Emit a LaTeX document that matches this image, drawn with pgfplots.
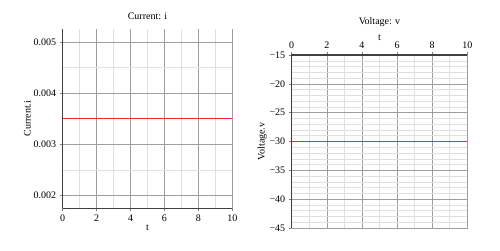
\documentclass[border=0pt]{standalone}
\usepackage{fontspec}
\setmainfont{Liberation Serif}
\usepackage{pgfplots}
\pgfplotsset{compat=1.18}
\definecolor{lred}{RGB}{240,40,40}
\begin{document}
\fontsize{10pt}{12pt}\selectfont
\begin{tikzpicture}[x=1pt,y=1pt]
\useasboundingbox (0,0) rectangle (500,250);
\pgfplotsset{
  common/.style={
    scale only axis,
    /pgf/number format/assume math mode=true,
    tick label style={font=\fontsize{10pt}{12pt}\selectfont},
    label style={font=\fontsize{10pt}{12pt}\selectfont},
    grid=both,
    major grid style={draw=black!38, line width=0.6pt},
    minor grid style={draw=black!12, line width=0.5pt},
    tick style={draw=black!50, line width=0.6pt},
    major tick length=3pt,
    minor tick length=0pt,
    tick align=outside,
    xmin=0, xmax=10,
    xtick={0,2,4,6,8,10},
    minor xtick={1,3,5,7,9},
  }
}
\begin{axis}[common,
  at={(62.7pt,41.7pt)}, anchor=south west,
  width=169.6pt, height=179.3pt,
  axis line style={draw=black!75, line width=1.1pt},
  axis x line*=bottom, axis y line*=left,
  ymin=0.00175, ymax=0.00525,
  ytick={0.002,0.003,0.004,0.005},
  yticklabels={0.002,0.003,0.004,0.005},
  minor ytick={0.0025,0.0045},
  scaled y ticks=false,
  title={Current: i},
  title style={font=\fontsize{10pt}{12pt}\selectfont, at={(0.5,1)}, anchor=south, yshift=0pt},
  xlabel={t}, ylabel={Current.i},
  xlabel style={yshift=4pt},
  ylabel style={yshift=-4pt},
]
\addplot[lred, line width=1.1pt] coordinates {(0,0.0035) (10,0.0035)};
\end{axis}
\begin{axis}[common,
  at={(291.7pt,22pt)}, anchor=south west,
  width=175.6pt, height=173pt,
  axis line style={draw=black!38, line width=0.6pt},
  xtick pos=upper, xticklabel pos=upper,
  ytick pos=left, yticklabel pos=left,
  ymin=-45, ymax=-15,
  ytick={-45,-40,-35,-30,-25,-20,-15},
  yticklabels={−45,−40,−35,−30,−25,−20,−15},
  minor ytick={-44,-43,-42,-41,-39,-38,-37,-36,-34,-33,-32,-31,-29,-28,-27,-26,-24,-23,-22,-21,-19,-18,-17,-16},
  title={Voltage: v},
  title style={font=\fontsize{10pt}{12pt}\selectfont, at={(0.5,1)}, anchor=south, yshift=19pt},
  xlabel={t}, ylabel={Voltage.v},
  xlabel style={yshift=-6pt},
  ylabel style={yshift=-4pt},
  extra description/.code={
    \draw[black!75, line width=1.1pt] (rel axis cs:0,0) -- (rel axis cs:0,1) -- (rel axis cs:1,1);
  },
]
\addplot[draw=lred, line width=1.1pt, mark=none] coordinates {(0,-30) (10,-30)};
\end{axis}
\end{tikzpicture}
\end{document}
